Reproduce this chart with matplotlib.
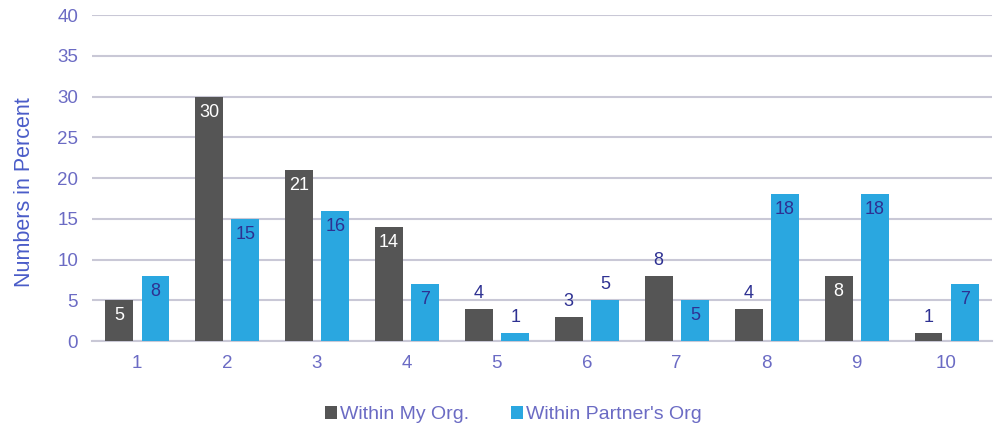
import matplotlib
matplotlib.use("Agg")
import matplotlib.pyplot as plt
import numpy as np

plt.rcParams["font.family"] = ["Liberation Sans", "DejaVu Sans"]

categories = ["1", "2", "3", "4", "5", "6", "7", "8", "9", "10"]
my_org = [5, 30, 21, 14, 4, 3, 8, 4, 8, 1]
partner_org = [8, 15, 16, 7, 1, 5, 5, 18, 18, 7]
# label placement: True = inside the bar top, False = above the bar
my_inside = [True, True, True, True, False, False, False, False, True, False]
partner_inside = [True, True, True, True, False, False, True, True, True, True]

dark = "#555555"
blue = "#2aa7e0"
tick_col = "#6b6bc4"
navy = "#2e3192"

fig = plt.figure(figsize=(9.95, 4.34), dpi=100)
ax = fig.add_axes([0.0925, 0.214, 0.904, 0.751])

x = np.arange(len(categories))
w = 0.31
b1 = ax.bar(x - 0.2, my_org, w, color=dark, zorder=3)
b2 = ax.bar(x + 0.205, partner_org, w, color=blue, zorder=3)

for rects, vals, inside, incol in ((b1, my_org, my_inside, "white"), (b2, partner_org, partner_inside, navy)):
    for r, v, ins in zip(rects, vals, inside):
        cx = r.get_x() + r.get_width() / 2
        if ins:
            ax.annotate(str(v), (cx, v), xytext=(0, -5), textcoords="offset points",
                        ha="center", va="top", color=incol, fontsize=13, zorder=4)
        else:
            ax.annotate(str(v), (cx, v), xytext=(0, 5), textcoords="offset points",
                        ha="center", va="bottom", color=navy, fontsize=13, zorder=4)

ax.set_xlim(-0.5, len(categories) - 0.5)
ax.set_ylim(0, 40)
ax.set_yticks(range(0, 41, 5))
ax.set_xticks(x)
ax.set_xticklabels(categories)
ax.tick_params(axis="both", length=0, colors=tick_col, labelsize=13.5)
ax.tick_params(axis="y", pad=10)
ax.tick_params(axis="x", pad=10)
ax.yaxis.grid(True, color="#c9c8d6", linewidth=1.5, zorder=0)
ax.set_axisbelow(True)
for s in ["top", "right", "left"]:
    ax.spines[s].set_visible(False)
ax.spines["bottom"].set_color("#c9c8d6")
ax.spines["bottom"].set_linewidth(1.5)
ax.set_ylabel("Numbers in Percent", color="#4a5cc8", fontsize=15.5)
ax.yaxis.set_label_coords(-0.063, 0.457)

leg = fig.legend([b1, b2], ["Within My Org.", "Within Partner's Org"], loc="center",
                 bbox_to_anchor=(0.516, 0.044), ncol=2, frameon=False, fontsize=14,
                 handlelength=0.6, handleheight=0.6, handletextpad=0.15, columnspacing=2.2)
for t in leg.get_texts():
    t.set_color(tick_col)

fig.savefig("out.png", dpi=100)
